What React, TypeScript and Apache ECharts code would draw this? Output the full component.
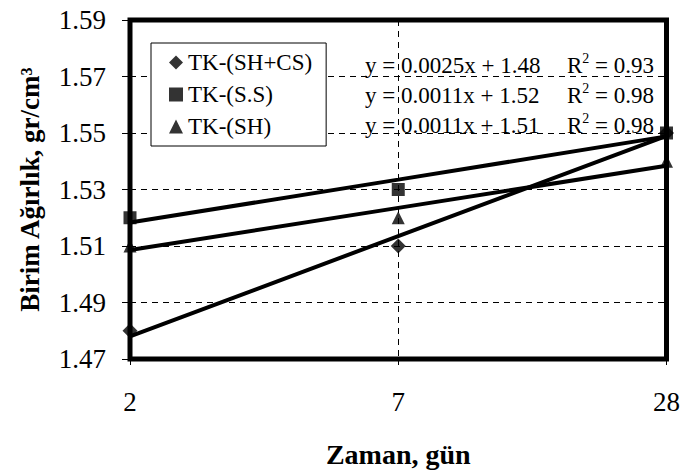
import React, { useEffect, useRef } from "react";
import * as echarts from "echarts";

const categories = ["2", "7", "28"];
const seriesNames = ["TK-(SH+CS)", "TK-(S.S)", "TK-(SH)"];
const symbols = ["diamond", "rect", "triangle"];
const shcsValues = [1.48, 1.51, 1.55];
const ssValues = [1.52, 1.53, 1.55];
const shValues = [1.51, 1.52, 1.54];
// trendline values
const shcsTrend = [1.478, 1.5135, 1.549];
const ssTrend = [1.5183, 1.5335, 1.5488];
const shTrend = [1.5086, 1.5235, 1.5384];
const equations = ["y = 0.0025x + 1.48", "y = 0.0011x + 1.52", "y = 0.0011x + 1.51"];
const rSquaredValues = ["0.93", "0.98", "0.98"];
const yMin = 1.47;
const yMax = 1.59;
const yStep = 0.02;

const FONT = "Liberation Serif";

export default function App() {
  const ref = useRef<HTMLDivElement>(null);
  useEffect(() => {
    if (!ref.current) return;
    const chart = echarts.init(ref.current, null, { renderer: "svg" });
    const values = [shcsValues, ssValues, shValues];
    const trends = [shcsTrend, ssTrend, shTrend];
    const eqCenters = [65, 95, 125];
    chart.setOption({
      animation: false,
      backgroundColor: "#fff",
      textStyle: { fontFamily: FONT },
      grid: {
        left: 130,
        right: 14,
        top: 20,
        bottom: 114,
        show: true,
        borderColor: "#000",
        borderWidth: 5,
        backgroundColor: "transparent",
      },
      legend: {
        orient: "vertical",
        left: 151,
        top: 43,
        data: seriesNames,
        borderColor: "#000",
        borderWidth: 1,
        borderRadius: 0,
        backgroundColor: "#fff",
        padding: [8, 14, 8, 18],
        itemGap: 9,
        itemWidth: 14,
        itemHeight: 14,
        textStyle: { fontFamily: FONT, fontSize: 23, color: "#000" },
      },
      xAxis: {
        type: "category",
        data: categories,
        boundaryGap: false,
        axisLine: { show: false },
        axisTick: { show: true, length: 6, lineStyle: { color: "#000", width: 1 } },
        axisLabel: { fontFamily: FONT, fontSize: 27, color: "#000", margin: 29 },
        splitLine: { show: true, lineStyle: { color: "#000", type: [6, 5], width: 1 } },
        name: "Zaman, gün",
        nameLocation: "middle",
        nameGap: 81,
        nameTextStyle: { fontFamily: FONT, fontSize: 28, fontWeight: "bold", color: "#000" },
      },
      yAxis: {
        type: "value",
        min: yMin,
        max: yMax,
        interval: yStep,
        axisLine: { show: false },
        axisTick: { show: true, length: 8, lineStyle: { color: "#000", width: 1 } },
        axisLabel: {
          fontFamily: FONT,
          fontSize: 27,
          color: "#000",
          margin: 24,
          formatter: (v: number) => v.toFixed(2),
        },
        splitLine: { show: true, lineStyle: { color: "#000", type: [6, 5], width: 1 } },
        name: "Birim Ağırlık, gr/cm³",
        nameLocation: "middle",
        nameGap: 87,
        nameTextStyle: { fontFamily: FONT, fontSize: 27, fontWeight: "bold", color: "#000" },
      },
      graphic: [
        ...equations.map((t, i) => ({
          type: "text",
          x: 365,
          y: eqCenters[i],
          z: 100,
          style: { text: t, fontFamily: FONT, fontSize: 23, fill: "#000", verticalAlign: "middle" },
        })),
        ...rSquaredValues.map((t, i) => ({
          type: "text",
          x: 567,
          y: eqCenters[i],
          z: 100,
          style: {
            text: "R{sup|2} = " + t,
            fontFamily: FONT,
            fontSize: 23,
            fill: "#000",
            verticalAlign: "middle",
            rich: {
              sup: { fontFamily: FONT, fontSize: 14, fill: "#000", padding: [0, 0, 14, 0] },
            },
          },
        })),
      ],
      series: [
        ...trends.map((d, i) => ({
          type: "line",
          name: seriesNames[i] + " trend",
          data: d,
          symbol: "none",
          silent: true,
          lineStyle: { color: "#000", width: 4 },
          z: 3,
        })),
        ...values.map((d, i) => ({
          type: "scatter",
          name: seriesNames[i],
          data: d,
          symbol: symbols[i],
          symbolSize: i === 0 ? 15 : 13,
          clip: false,
          itemStyle: { color: "#000" },
          z: 4,
        })),
      ],
    });
    return () => chart.dispose();
  }, []);
  return <div ref={ref} style={{ width: 683, height: 473, position: "absolute", left: 0, top: 0 }} />;
}
